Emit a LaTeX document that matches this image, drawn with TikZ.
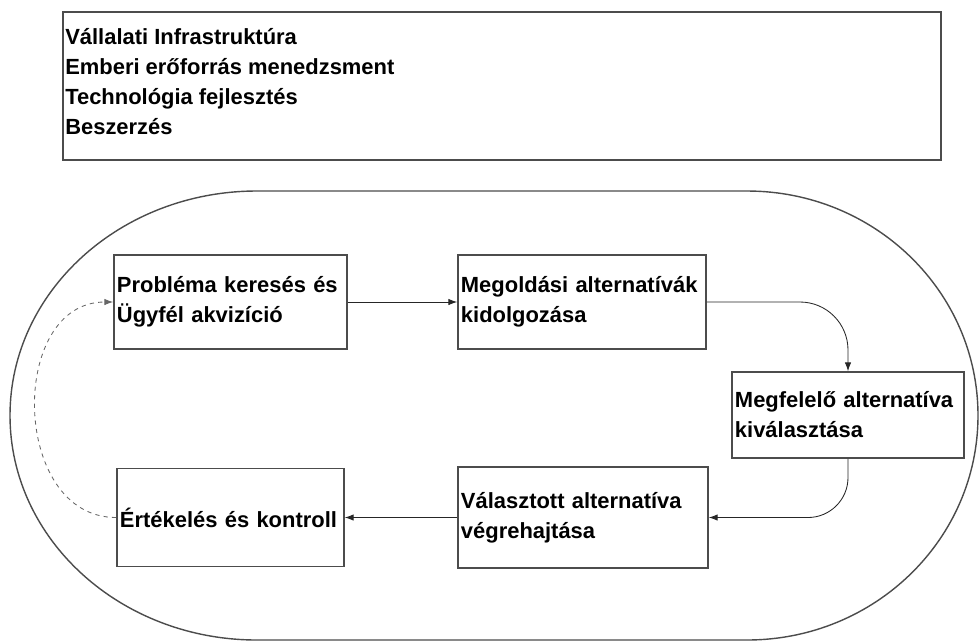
\documentclass[tikz,border=0pt]{standalone}
\usepackage{fontspec}
\setmainfont{Liberation Sans}
\usetikzlibrary{positioning,arrows.meta}

\begin{document}
\begin{tikzpicture}[x=0.025cm,y=0.025cm,>={Latex[length=2.2mm,width=1.6mm]}]
 \useasboundingbox (0,0) rectangle (979,-641);
 \tikzstyle{every node} = [font=\bfseries\fontsize{15.6}{21.4}\selectfont,inner sep=0pt]
 \tikzstyle{stepbox} = [draw=black!70,line width=1.1pt,align=left,inner xsep=0.075cm]
 % support activities
 \node[draw=black!70,line width=1.1pt,minimum width=21.95cm,minimum height=3.7cm] (support) at (502,-86) {};
 \node[anchor=north west,align=left] (supporttext) at (65,-28) {Vállalati Infrastruktúra\\
   Emberi erőforrás menedzsment\\ Technológia fejlesztés\\ Beszerzés};
 % outer loop
 \draw[black!70,line width=1pt] (257,-191) -- (747,-191)
   arc[start angle=90,end angle=-90,x radius=231,y radius=224.5] -- (257,-640)
   arc[start angle=-90,end angle=-270,x radius=247,y radius=224.5] -- cycle;
 % process steps
 \node[stepbox,minimum width=5.825cm,minimum height=2.35cm,text width=5.675cm] (search) at (230.5,-302)
 {Probléma keresés és\\ Ügyfél akvizíció};
 \node[stepbox,minimum width=6.2cm,minimum height=2.35cm,text width=6.05cm] (develop) at (582,-302)
 {Megoldási alternatívák\\ kidolgozása};
 \node[stepbox,minimum width=5.8cm,minimum height=2.15cm,text width=5.65cm] (choose) at (848,-415)
 {Megfelelő alternatíva\\ kiválasztása};
 \node[stepbox,minimum width=6.25cm,minimum height=2.525cm,text width=6.1cm] (execute) at (583,-517.5)
 {Választott alternatíva\\ végrehajtása};
 \node[stepbox,minimum width=5.675cm,minimum height=2.45cm,text width=5.525cm] (evaluate) at (230.5,-517.5)
 {Értékelés és kontroll};
 \draw [->,black!85,line width=0.6pt] (search) -- (develop);
 \draw [->,black!85,line width=0.6pt,rounded corners=1.2cm] (develop.east) -| (choose.north);
 \draw [->,black!85,line width=0.6pt,rounded corners=1cm] (choose.south) |- (execute.east);
 \draw [->,black!85,line width=0.6pt] (execute) -- (evaluate);
 \draw [->,black!60,line width=0.6pt,dashed] (evaluate.west) to[out=180,in=180,looseness=1.25] (search.west);
\end{tikzpicture}
\end{document}
